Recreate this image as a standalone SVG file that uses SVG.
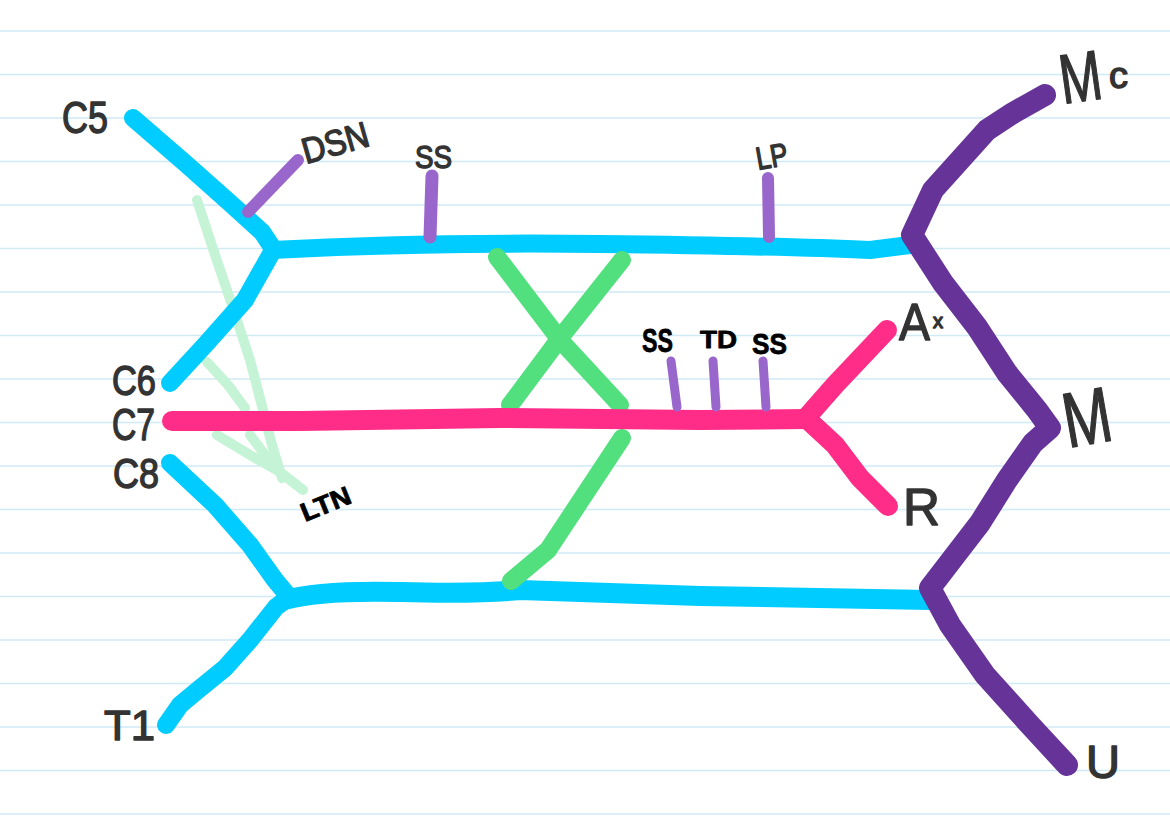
<svg xmlns="http://www.w3.org/2000/svg" width="1170" height="826" viewBox="0 0 1170 826">
<style>
.paper{stroke:#d0eaf6;stroke-width:1.5}
.n{fill:none;stroke-linecap:round;stroke-linejoin:round}
.cy{stroke:#00ccff;stroke-width:18}
.pk{stroke:#ff2d88;stroke-width:20}
.pu{stroke:#663399;stroke-width:22}
.gr{stroke:#52e07e;stroke-width:18}
.pg{stroke:#c4f3d5;stroke-width:10}
.tk{stroke:#9966cc;stroke-width:12}
.tks{stroke:#9966cc;stroke-width:9}
.lb{font-family:"Liberation Sans",Arial,sans-serif;fill:#333;stroke:#333;stroke-width:1.4;stroke-linejoin:round}
.bk{font-family:"Liberation Sans",Arial,sans-serif;fill:#000;font-weight:bold;stroke:#000;stroke-width:0.8;stroke-linejoin:round}
</style>
<rect width="1170" height="826" fill="#ffffff"/>
<g id="paper">
<line class="paper" x1="0" y1="31" x2="1170" y2="31"/>
<line class="paper" x1="0" y1="74.6" x2="1170" y2="74.6"/>
<line class="paper" x1="0" y1="118" x2="1170" y2="118"/>
<line class="paper" x1="0" y1="161.5" x2="1170" y2="161.5"/>
<line class="paper" x1="0" y1="205" x2="1170" y2="205"/>
<line class="paper" x1="0" y1="248.5" x2="1170" y2="248.5"/>
<line class="paper" x1="0" y1="292" x2="1170" y2="292"/>
<line class="paper" x1="0" y1="335.5" x2="1170" y2="335.5"/>
<line class="paper" x1="0" y1="379" x2="1170" y2="379"/>
<line class="paper" x1="0" y1="422.5" x2="1170" y2="422.5"/>
<line class="paper" x1="0" y1="466" x2="1170" y2="466"/>
<line class="paper" x1="0" y1="509.5" x2="1170" y2="509.5"/>
<line class="paper" x1="0" y1="553" x2="1170" y2="553"/>
<line class="paper" x1="0" y1="596.5" x2="1170" y2="596.5"/>
<line class="paper" x1="0" y1="640" x2="1170" y2="640"/>
<line class="paper" x1="0" y1="683.5" x2="1170" y2="683.5"/>
<line class="paper" x1="0" y1="727" x2="1170" y2="727"/>
<line class="paper" x1="0" y1="770.5" x2="1170" y2="770.5"/>
<line class="paper" x1="0" y1="814" x2="1170" y2="814"/>
</g>
<g id="connectors">
<path class="n pg" d="M197,200 L215,255 L232,305 L250,360 L263,410 L272,445 L282,478"/>
<path class="n pg" d="M207,362 L228,385 L245,408"/>
<path class="n pg" d="M217,435 L250,455 L280,472 L303,490"/>
<path class="n pg" d="M250,435 L265,455 L280,472"/>
<path class="n cy" d="M133,118 L185,163 L230,203 L262,232 L272,247"/>
<path class="n cy" d="M272,250 Q420,242 600,244 T870,250 L910,245"/>
<path class="n cy" d="M170,383 L205,345 L245,300 L272,252"/>
<path class="n cy" d="M170,463 L215,505 L250,545 L275,580 L290,598"/>
<path class="n cy" d="M287,599 L276,607 L250,640 L225,668 L198,690 L180,705 L166,725"/>
<path class="n cy" style="stroke-width:20" d="M285,600 Q320,590 400,592 T520,590 L700,596 L930,600"/>
<path class="n gr" d="M497,257 L560,340 L620,405"/>
<path class="n gr" d="M622,260 L560,338 L510,405"/>
<path class="n gr" d="M622,438 L548,550 L511,581"/>
<path class="n pk" d="M172,421 L300,421 L500,418 L700,420 L808,419"/>
<path class="n pk" d="M806,418 L835,385 L887,330"/>
<path class="n pk" d="M808,420 L835,445 L860,478 L888,506"/>
<path class="n pu" d="M1045,95 L1013,113 L987,130 L960,160 L933,190 L912,235 L943,283 L977,327 L1007,373 L1037,410 L1050,428 L1033,443 L1007,480 L980,523 L930,588 L950,625 L985,675 L1030,725 L1067,765"/>
<path class="n tk" d="M248,212 L298,160"/>
<path class="n tk" style="stroke-width:13" d="M432,176 L430,237"/>
<path class="n tk" d="M768,178 L769,237"/>
<path class="n tks" d="M671,361 L677,407"/>
<path class="n tks" d="M713,361 L716,407"/>
<path class="n tks" d="M763,361 L766,407"/>
</g>
<g id="label-C5"><text class="lb" x="62" y="133" font-size="44" textLength="46" lengthAdjust="spacingAndGlyphs">C5</text></g>
<g id="label-DSN"><text class="lb" x="306" y="164" font-size="36" textLength="68" lengthAdjust="spacingAndGlyphs" transform="rotate(-16 306 164)">DSN</text></g>
<g id="label-SS-top"><text class="lb" x="415" y="168" font-size="32" textLength="37" lengthAdjust="spacingAndGlyphs">SS</text></g>
<g id="label-LP"><text class="lb" x="758" y="170" font-size="32" textLength="32" lengthAdjust="spacingAndGlyphs" transform="rotate(-10 758 170)">LP</text></g>
<g id="label-C6"><text class="lb" x="112" y="395" font-size="42" textLength="44" lengthAdjust="spacingAndGlyphs">C6</text></g>
<g id="label-C7"><text class="lb" x="112" y="440" font-size="44" textLength="43" lengthAdjust="spacingAndGlyphs">C7</text></g>
<g id="label-C8"><text class="lb" x="113" y="488" font-size="42" textLength="46" lengthAdjust="spacingAndGlyphs">C8</text></g>
<g id="label-LTN"><text class="bk" x="305" y="522" font-size="26" textLength="52" lengthAdjust="spacingAndGlyphs" transform="rotate(-22 305 522)">LTN</text></g>
<g id="label-SS-1"><text class="bk" x="642" y="352" font-size="34" textLength="31" lengthAdjust="spacingAndGlyphs">SS</text></g>
<g id="label-TD"><text class="bk" x="700" y="348" font-size="24" textLength="37" lengthAdjust="spacingAndGlyphs">TD</text></g>
<g id="label-SS-2"><text class="bk" x="752" y="354" font-size="30" textLength="35" lengthAdjust="spacingAndGlyphs">SS</text></g>
<g id="label-Ax"><text class="lb" x="899" y="340" font-size="52" textLength="31" lengthAdjust="spacingAndGlyphs">A</text><text class="lb" x="933" y="328" font-size="20" textLength="10" lengthAdjust="spacingAndGlyphs">x</text></g>
<g id="label-R"><text class="lb" x="903" y="525" font-size="52" textLength="37" lengthAdjust="spacingAndGlyphs">R</text></g>
<g id="label-Mc"><text class="lb" x="1063" y="104" font-size="70" textLength="42" lengthAdjust="spacingAndGlyphs" transform="rotate(-8 1063 104)">M</text><text class="lb" x="1109" y="88" font-size="36" textLength="19" lengthAdjust="spacingAndGlyphs">c</text></g>
<g id="label-M"><text class="lb" x="1068" y="448" font-size="78" textLength="48" lengthAdjust="spacingAndGlyphs" transform="rotate(-10 1068 448)">M</text></g>
<g id="label-T1"><text class="lb" x="104" y="740" font-size="42" textLength="51" lengthAdjust="spacingAndGlyphs">T1</text></g>
<g id="label-U"><text class="lb" x="1086" y="778" font-size="46" textLength="34" lengthAdjust="spacingAndGlyphs">U</text></g>
</svg>
